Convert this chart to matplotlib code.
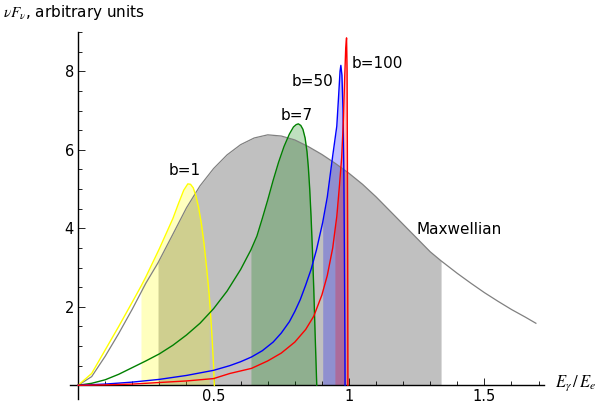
import matplotlib

matplotlib.use("Agg")
import matplotlib.pyplot as plt
import numpy as np

plt.rcParams["font.family"] = ["DejaVu Sans"]
plt.rcParams["mathtext.fontset"] = "stix"

# Maxwellian spectrum (grey), shaded between the two band edges
max_x = [0.0, 0.05, 0.1, 0.15, 0.2, 0.25, 0.295, 0.35, 0.4, 0.45, 0.5, 0.55, 0.6, 0.65,
         0.7, 0.75, 0.8, 0.85, 0.9, 0.95, 1.0, 1.05, 1.1, 1.15, 1.2, 1.25, 1.3, 1.34,
         1.4, 1.45, 1.5, 1.55, 1.6, 1.65, 1.69]
max_y = [0.0, 0.22, 0.74, 1.32, 1.94, 2.60, 3.12, 3.85, 4.52, 5.08, 5.52, 5.87, 6.13, 6.30,
         6.38, 6.35, 6.25, 6.08, 5.88, 5.65, 5.40, 5.12, 4.80, 4.45, 4.10, 3.75, 3.40, 3.17,
         2.85, 2.60, 2.36, 2.14, 1.93, 1.74, 1.58]
max_band = (0.295, 1.34)

# b = 1 (yellow)
b1_x = [0.0, 0.05, 0.1, 0.15, 0.2, 0.232, 0.25, 0.3, 0.35, 0.37, 0.39, 0.405, 0.415,
        0.425, 0.435, 0.445, 0.455, 0.465, 0.475, 0.484, 0.49, 0.495, 0.5, 0.503]
b1_y = [0.0, 0.30, 0.90, 1.50, 2.12, 2.52, 2.76, 3.48, 4.25, 4.62, 4.97, 5.13, 5.12,
        5.03, 4.82, 4.52, 4.12, 3.60, 2.95, 2.30, 1.70, 1.15, 0.50, 0.0]
b1_band = (0.232, 0.484)

# b = 7 (green)
b7_x = [0.0, 0.05, 0.1, 0.15, 0.2, 0.25, 0.3, 0.35, 0.4, 0.45, 0.5, 0.55, 0.6, 0.638,
        0.66, 0.68, 0.70, 0.72, 0.74, 0.76, 0.78, 0.795, 0.805, 0.813, 0.822, 0.83,
        0.838, 0.845, 0.85, 0.855, 0.86, 0.865, 0.87, 0.875, 0.881]
b7_y = [0.0, 0.05, 0.14, 0.28, 0.45, 0.62, 0.80, 1.02, 1.28, 1.58, 1.95, 2.40, 2.95, 3.45,
        3.80, 4.25, 4.72, 5.22, 5.68, 6.08, 6.40, 6.58, 6.64, 6.66, 6.62, 6.52,
        6.30, 5.95, 5.55, 5.00, 4.30, 3.45, 2.45, 1.30, 0.0]
b7_band = (0.638, 0.881)

# b = 50 (blue)
b50_x = [0.0, 0.1, 0.2, 0.3, 0.4, 0.5, 0.56, 0.6, 0.64, 0.68, 0.72, 0.75, 0.78, 0.8,
         0.82, 0.84, 0.86, 0.88, 0.903, 0.92, 0.94, 0.955, 0.962, 0.967, 0.970, 0.974,
         0.978, 0.981, 0.983, 0.985, 0.9855]
b50_y = [0.0, 0.03, 0.08, 0.15, 0.25, 0.38, 0.50, 0.60, 0.72, 0.88, 1.10, 1.33, 1.62, 1.88,
         2.18, 2.55, 2.95, 3.45, 4.15, 4.80, 5.85, 6.60, 7.40, 8.00, 8.15, 7.90,
         7.00, 5.50, 3.50, 1.00, 0.0]
b50_band = (0.903, 0.9855)

# b = 100 (red)
b100_x = [0.0, 0.1, 0.2, 0.3, 0.4, 0.5, 0.56, 0.64, 0.7, 0.75, 0.8, 0.84, 0.87, 0.9,
          0.92, 0.94, 0.948, 0.955, 0.965, 0.973, 0.979, 0.984, 0.988, 0.991, 0.993,
          0.995, 0.996]
b100_y = [0.0, 0.01, 0.03, 0.07, 0.11, 0.17, 0.30, 0.43, 0.62, 0.82, 1.10, 1.42, 1.76, 2.30,
          2.80, 3.50, 3.93, 4.30, 5.10, 5.80, 6.70, 7.80, 8.60, 8.85, 8.00,
          4.00, 0.0]
b100_band = (0.948, 0.996)

CURVES = [
    (b1_x, b1_y, b1_band, "#ffff00"),
    (b7_x, b7_y, b7_band, "#008000"),
    (b50_x, b50_y, b50_band, "#0000ff"),
    (b100_x, b100_y, b100_band, "#ff0000"),
]

LABELS = [
    ("b=1", 0.395, 5.48),
    ("b=7", 0.807, 6.87),
    ("b=50", 0.865, 7.74),
    ("b=100", 1.106, 8.21),
    ("Maxwellian", 1.408, 3.97),
]


def band_mask(x, band):
    x = np.asarray(x)
    return (x >= band[0] - 1e-9) & (x <= band[1] + 1e-9)


fig = plt.figure(figsize=(6.0, 4.05), dpi=100)
ax = fig.add_axes([70 / 600, 6 / 405, 474 / 600, 367 / 405])

# grey Maxwellian band, then the coloured bands on top of it
ax.fill_between(max_x, 0, max_y, where=band_mask(max_x, max_band),
                color="#c0c0c0", lw=0, zorder=1)
for xs, ys, band, col in CURVES:
    ax.fill_between(xs, 0, ys, where=band_mask(xs, band),
                    color=col, alpha=0.25, lw=0, zorder=2)

ax.plot(max_x, max_y, color="#808080", lw=0.9, zorder=3)
for xs, ys, band, col in CURVES:
    ax.plot(xs, ys, color=col, lw=1.0, zorder=4)

for text, x, y in LABELS:
    ax.text(x, y, text, fontsize=11, ha="center", va="center", zorder=5)

ax.set_xlim(-0.03, 1.72)
ax.set_ylim(-0.35, 9.0)

for side in ("top", "right"):
    ax.spines[side].set_visible(False)
ax.spines["left"].set_position(("data", 0))
ax.spines["bottom"].set_position(("data", 0))
for side in ("left", "bottom"):
    ax.spines[side].set_linewidth(1.0)

ax.set_xticks([0.5, 1.0, 1.5])
ax.set_xticklabels(["0.5", "1", "1.5"])
ax.set_xticks(np.arange(0.1, 1.71, 0.1), minor=True)
ax.set_yticks([2, 4, 6, 8])
ax.set_yticks(np.arange(0.5, 9.01, 0.5), minor=True)
ax.tick_params(which="both", direction="in", labelsize=10.5, pad=3, width=0.6)
ax.tick_params(which="major", length=5)
ax.tick_params(which="minor", length=3)

fig.text(3 / 600, 1 - 13 / 405, r"$\nu F_{\nu}$, arbitrary units", fontsize=11,
         ha="left", va="center")
ax.text(1.76, 0.05, r"$E_{\gamma}\,/\,E_e$", fontsize=12, ha="left", va="center",
        clip_on=False)

fig.savefig("out.png", dpi=100)
plt.close(fig)
